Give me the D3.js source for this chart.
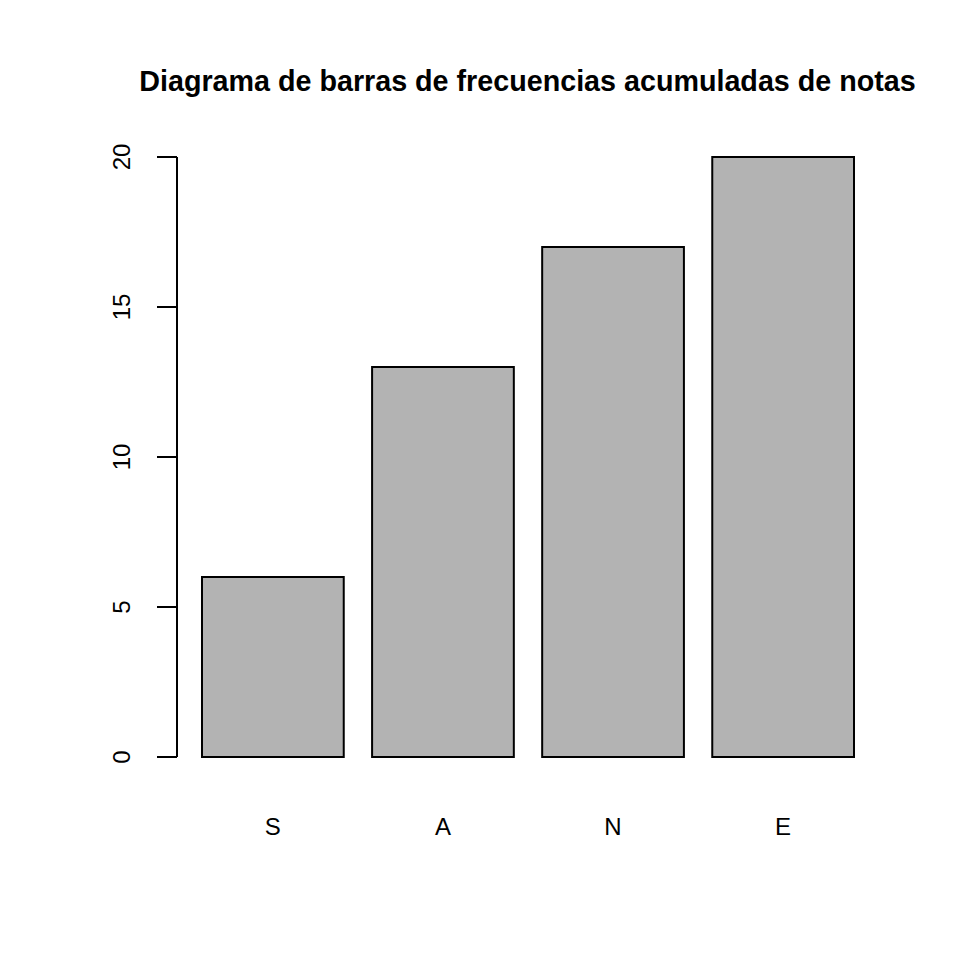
<!DOCTYPE html>
<html>
<head>
<meta charset="utf-8">
<script src="https://cdn.jsdelivr.net/npm/d3@7"></script>
<style>
  body { margin: 0; background: #fff; }
  svg text { font-family: "Liberation Sans", Arial, Helvetica, sans-serif; }
</style>
</head>
<body>
<div id="chart"></div>
<script>
// cumulative frequencies of grades
var categories = ["S", "A", "N", "E"];
var values = [6, 13, 17, 20];
var yTicks = [0, 5, 10, 15, 20];
var title = "Diagrama de barras de frecuencias acumuladas de notas";

var W = 960, H = 960;
var plot = {left: 177, right: 878, top: 133, bottom: 781};

var svg = d3.select("#chart").append("svg")
    .attr("width", W)
    .attr("height", H);

// R pads the data range by 4% on each side
var yScale = d3.scaleLinear()
    .domain([-0.8, 20.8])
    .range([plot.bottom, plot.top]);

var xScale = d3.scaleBand()
    .domain(categories)
    .range([202, 854])
    .paddingInner(0.2 / 1.2)
    .paddingOuter(0);

// bars
svg.selectAll("rect.bar")
    .data(values)
  .enter().append("rect")
    .attr("class", "bar")
    .attr("x", function(d, i) { return xScale(categories[i]); })
    .attr("y", function(d) { return yScale(d); })
    .attr("width", xScale.bandwidth())
    .attr("height", function(d) { return yScale(0) - yScale(d); })
    .style("fill", "#b3b3b3")
    .style("stroke", "#000")
    .style("stroke-width", 2);

// y axis, done by hand to get the R look
var yAxis = svg.append("g").attr("class", "y axis");
yAxis.append("line")
    .attr("x1", plot.left).attr("x2", plot.left)
    .attr("y1", yScale(0)).attr("y2", yScale(20))
    .style("stroke", "#000").style("stroke-width", 2);
yAxis.selectAll("line.tick")
    .data(yTicks)
  .enter().append("line")
    .attr("class", "tick")
    .attr("x1", plot.left - 20).attr("x2", plot.left)
    .attr("y1", function(d) { return yScale(d); })
    .attr("y2", function(d) { return yScale(d); })
    .style("stroke", "#000").style("stroke-width", 2);
yAxis.selectAll("text")
    .data(yTicks)
  .enter().append("text")
    .attr("transform", function(d) { return "translate(130," + yScale(d) + ") rotate(-90)"; })
    .attr("text-anchor", "middle")
    .style("font-size", "24px")
    .text(function(d) { return d; });

// category labels
svg.selectAll("text.cat")
    .data(categories)
  .enter().append("text")
    .attr("class", "cat")
    .attr("x", function(d) { return xScale(d) + xScale.bandwidth() / 2; })
    .attr("y", 835)
    .attr("text-anchor", "middle")
    .style("font-size", "24px")
    .text(function(d) { return d; });

// title
svg.append("text")
    .attr("x", (plot.left + plot.right) / 2)
    .attr("y", 91)
    .attr("text-anchor", "middle")
    .style("font-size", "28.7px")
    .style("font-weight", "bold")
    .text(title);
</script>
</body>
</html>
